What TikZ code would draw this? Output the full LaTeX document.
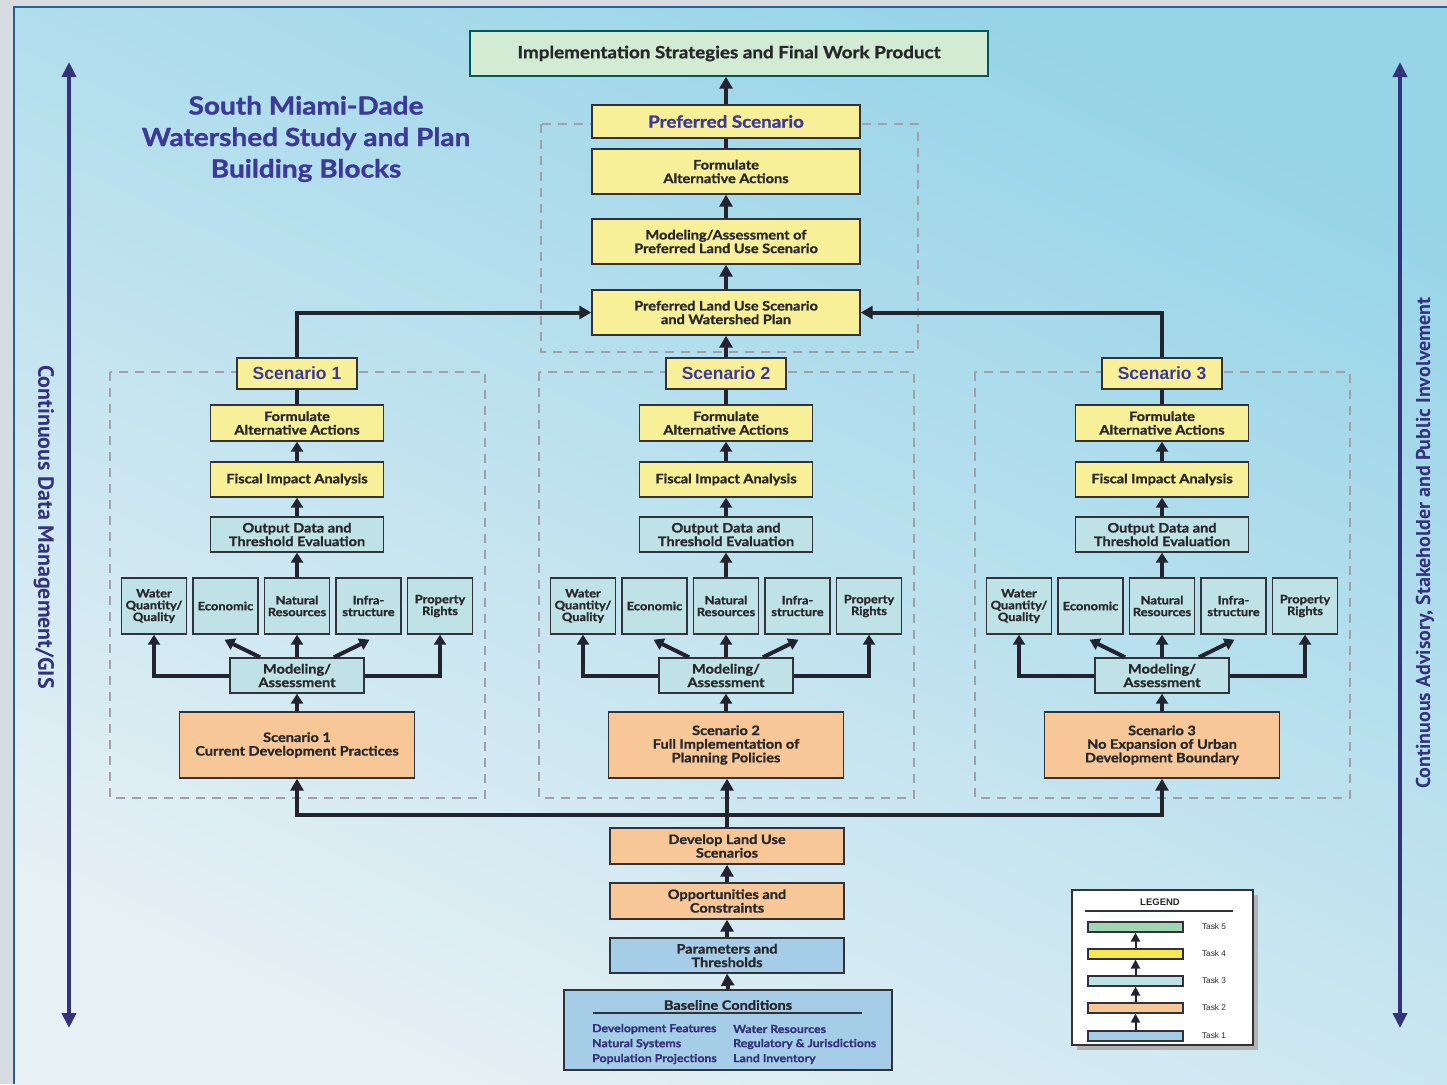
\documentclass[tikz,border=0pt]{standalone}
\usepackage{fontspec}
\usetikzlibrary{arrows.meta,calc}
\newfontfamily\gill{Lato}[FakeStretch=1.12, BoldFeatures={FakeBold=1.2}]
\newfontfamily\arial{Liberation Sans}
\newfontfamily\cond{PT Sans}

\definecolor{yfill}{RGB}{248,240,152}
\definecolor{tfill}{RGB}{191,226,230}
\definecolor{ofill}{RGB}{247,199,152}
\definecolor{bfill}{RGB}{166,205,232}
\definecolor{gfill}{RGB}{210,236,212}
\definecolor{gbar}{RGB}{160,215,178}
\definecolor{ybar}{RGB}{245,232,80}
\definecolor{bord}{RGB}{50,50,58}
\definecolor{arr}{RGB}{35,35,48}
\definecolor{navy}{RGB}{52,50,122}
\definecolor{ttl}{RGB}{60,58,150}
\definecolor{dgray}{RGB}{160,160,172}
\definecolor{txt}{RGB}{40,40,44}
\definecolor{bgtop}{RGB}{150,212,232}
\definecolor{bgbot}{RGB}{230,240,245}
\definecolor{frameblue}{RGB}{40,95,150}
\definecolor{outgray}{RGB}{215,220,224}

\newcommand\drawcolumn[4]{%
  \draw[dashbox] ({#2-187},372) rectangle ({#2+188},798);
  \node[ybox, stitle, minimum width=120pt, minimum height=31pt] (#1t) at (#2,373.5) {#3};
  \node[ybox, minimum width=173pt, minimum height=36pt] (#1f) at (#2,423) {Formulate\\Alternative Actions};
  \node[ybox, minimum width=173pt, minimum height=35pt] (#1i) at (#2,479.5) {Fiscal Impact Analysis};
  \node[tbox, minimum width=173pt, minimum height=35pt] (#1o) at (#2,534.5) {Output Data and\\Threshold Evaluation};
  \node[sbox] (#1w) at ({#2-143},606) {Water\\Quantity/\\Quality};
  \node[sbox] (#1e) at ({#2-71.5},606) {Economic};
  \node[sbox] (#1n) at (#2,606) {Natural\\Resources};
  \node[sbox] (#1s) at ({#2+71.5},606) {Infra-\\structure};
  \node[sbox] (#1p) at ({#2+143},606) {Property\\Rights};
  \node[tbox, minimum width=134pt, minimum height=35pt] (#1m) at (#2,675.5) {Modeling/\\Assessment};
  \node[obox, minimum width=235pt, minimum height=66pt] (#1c) at (#2,745) {#4};
  \draw[conn] (#1t.south) -- (#1f.north);
  \draw[conn,-{Triangle[width=12pt,length=10pt]}] (#1i.north) -- (#1f.south);
  \draw[conn,-{Triangle[width=12pt,length=10pt]}] (#1o.north) -- (#1i.south);
  \draw[conn,-{Triangle[width=12pt,length=10pt]}] (#1n.north) -- (#1o.south);
  \draw[conn,-{Triangle[width=12pt,length=10pt]}] (#1m.north) -- (#1n.south);
  \draw[conn,-{Triangle[width=12pt,length=10pt]}] ($(#1m.north)+(-37,0)$) -- ($(#1e.south)+(-1,5)$);
  \draw[conn,-{Triangle[width=12pt,length=10pt]}] ($(#1m.north)+(37,0)$) -- ($(#1s.south)+(1,5)$);
  \draw[conn,-{Triangle[width=12pt,length=10pt]}] (#1m.west) -| (#1w.south);
  \draw[conn,-{Triangle[width=12pt,length=10pt]}] (#1m.east) -| (#1p.south);
  \draw[conn,-{Triangle[width=12pt,length=10pt]}] (#1c.north) -- (#1m.south);
}

\begin{document}
\begin{tikzpicture}[x=1pt,y=-1pt,
  box/.style={draw=bord, line width=1.4pt, align=center, inner sep=2pt, text=txt,
    font=\gill\bfseries\fontsize{13}{13.6}\selectfont},
  ybox/.style={box, fill=yfill},
  tbox/.style={box, fill=tfill},
  obox/.style={box, fill=ofill},
  bbox/.style={box, fill=bfill},
  sbox/.style={tbox, minimum width=65pt, minimum height=56pt, inner sep=1pt,
    font=\gill\bfseries\fontsize{11.5}{11.8}\selectfont},
  stitle/.style={text=ttl, font=\arial\bfseries\fontsize{17.5}{20}\selectfont},
  dashbox/.style={draw=dgray, line width=1.6pt, dash pattern=on 9pt off 7pt},
  conn/.style={draw=arr, line width=4pt},
  bigarr/.style={conn, -{Triangle[width=13pt,length=12pt]}},
  sidearr/.style={draw=navy, line width=4.5pt, {Triangle[width=14pt,length=15pt]}-{Triangle[width=14pt,length=15pt]}},
  legbar/.style={draw=bord, line width=1.1pt, minimum width=95pt, minimum height=10pt, inner sep=0pt},
  legtxt/.style={font=\arial\fontsize{8.3}{10}\selectfont, text=txt},
  legarr/.style={draw=arr, line width=2pt, -{Triangle[width=9pt,length=9pt]}},
  baseitem/.style={anchor=west, inner sep=0pt, text=navy, font=\gill\bfseries\fontsize{11}{12}\selectfont}
]
\useasboundingbox (0,0) rectangle (1447,1084);
% background
\fill[outgray] (0,0) rectangle (1447,1084);
\shade[top color=bgtop, bottom color=bgbot, shading angle=-25] (14,7) rectangle (1447,1084);
\draw[frameblue, line width=2pt] (14,1084) -- (14,7) -- (1447,7);

% title
\node[align=center, text=ttl, font=\gill\bfseries\fontsize{25}{31.5}\selectfont] (title) at (306,139)
  {South Miami-Dade\\Watershed Study and Plan\\Building Blocks};

% side arrows and labels
\coordinate (lt) at (69,62);
\coordinate (lb) at (69,1028);
\coordinate (rt) at (1400,62);
\coordinate (rb) at (1400,1028);
\draw[sidearr] (lb) -- (lt);
\draw[sidearr] (rb) -- (rt);
\node[rotate=-90, text=navy, font=\cond\bfseries\fontsize{22}{24}\selectfont] (llab) at (44,527) {Continuous Data Management/GIS};
\node[rotate=90, text=navy, font=\cond\bfseries\fontsize{20}{22}\selectfont] (rlab) at (1425,543) {Continuous Advisory, Stakeholder and Public Involvement};

% preferred group
\draw[dashbox] (541,124) rectangle (918,352);
\node[box, draw=teal!70!black, fill=gfill, minimum width=518pt, minimum height=45pt,
  font=\gill\bfseries\fontsize{16.8}{18}\selectfont] (impl) at (729,53.5) {Implementation Strategies and Final Work Product};
\node[ybox, minimum width=268pt, minimum height=33pt, text=ttl,
  font=\gill\bfseries\fontsize{16.8}{19}\selectfont] (pref) at (726,121.5) {Preferred Scenario};
\node[ybox, minimum width=268pt, minimum height=45pt] (pform) at (726,171.5) {Formulate\\Alternative Actions};
\node[ybox, minimum width=268pt, minimum height=45pt] (pmod) at (726,241.5) {Modeling/Assessment of\\Preferred Land Use Scenario};
\node[ybox, minimum width=268pt, minimum height=45pt] (plu) at (726,312.5) {Preferred Land Use Scenario\\and Watershed Plan};
\draw[bigarr] (pref.north) -- (pref.north |- impl.south);
\draw[conn] (pform.north) -- (pref.south);
\draw[bigarr] (pmod.north) -- (pform.south);
\draw[bigarr] (plu.north) -- (pmod.south);

% scenario columns
\drawcolumn{a}{297}{Scenario 1}{Scenario 1\\Current Development Practices}
\drawcolumn{b}{726}{Scenario 2}{Scenario 2\\Full Implementation of\\Planning Policies}
\drawcolumn{c}{1162}{Scenario 3}{Scenario 3\\No Expansion of Urban\\Development Boundary}

\draw[bigarr] (bt.north) -- (plu.south);
\draw[bigarr] (at.north) |- (plu.west);
\draw[bigarr] (ct.north) |- (plu.east);

% bottom stack
\node[obox, minimum width=234pt, minimum height=36pt] (dev) at (727,846) {Develop Land Use\\Scenarios};
\node[obox, minimum width=234pt, minimum height=36pt] (opp) at (727,901) {Opportunities and\\Constraints};
\node[bbox, minimum width=234pt, minimum height=35pt] (par) at (727,955.5) {Parameters and\\Thresholds};
\node[bbox, minimum width=328pt, minimum height=80pt] (base) at (728,1030) {};
\node[text=txt, inner sep=0pt, font=\gill\bfseries\fontsize{13}{14}\selectfont] (btitle) at (728,1005) {Baseline Conditions};
\coordinate (brl) at (593,1013);
\coordinate (brr) at (862,1013);
\draw[draw=bord, line width=1.3pt] (brl) -- (brr);
\node[baseitem] (b1) at (592,1029) {Development Features};
\node[baseitem] (b2) at (592,1044) {Natural Systems};
\node[baseitem] (b3) at (592,1059) {Population Projections};
\node[baseitem] (b4) at (733,1029) {Water Resources};
\node[baseitem] (b5) at (733,1044) {Regulatory \& Jurisdictions};
\node[baseitem] (b6) at (733,1059) {Land Inventory};

\coordinate (jn) at (727,815);
\draw[bigarr] (dev.north) -- (dev.north |- bc.south);
\draw[bigarr] (jn) -| (ac.south);
\draw[bigarr] (jn) -| (cc.south);
\draw[bigarr] (opp.north) -- (dev.south);
\draw[bigarr] (par.north) -- (opp.south);
\draw[bigarr] (base.north) -- (par.south);

% legend
\fill[black!30] (1077,895) rectangle (1258,1050);
\node[draw=bord, fill=white, line width=1.2pt, minimum width=181pt, minimum height=155pt] (leg) at (1162.5,967.5) {};
\node[legtxt, font=\arial\bfseries\fontsize{9.5}{10}\selectfont] (legt) at (1160,902.5) {LEGEND};
\coordinate (lgl) at (1085,911);
\coordinate (lgr) at (1233,911);
\draw[draw=bord, line width=1.4pt] (lgl) -- (lgr);
\node[legbar, fill=gbar] (l5) at (1135.5,927) {};
\node[legbar, fill=ybar] (l4) at (1135.5,954) {};
\node[legbar, fill=tfill] (l3) at (1135.5,981) {};
\node[legbar, fill=ofill] (l2) at (1135.5,1008) {};
\node[legbar, fill=bfill] (l1) at (1135.5,1036) {};
\node[legtxt] (t5) at (1214,927) {Task 5};
\node[legtxt] (t4) at (1214,954) {Task 4};
\node[legtxt] (t3) at (1214,981) {Task 3};
\node[legtxt] (t2) at (1214,1008) {Task 2};
\node[legtxt] (t1) at (1214,1036) {Task 1};
\draw[legarr] (l4.north) -- (l5.south);
\draw[legarr] (l3.north) -- (l4.south);
\draw[legarr] (l2.north) -- (l3.south);
\draw[legarr] (l1.north) -- (l2.south);
\end{tikzpicture}
\end{document}
